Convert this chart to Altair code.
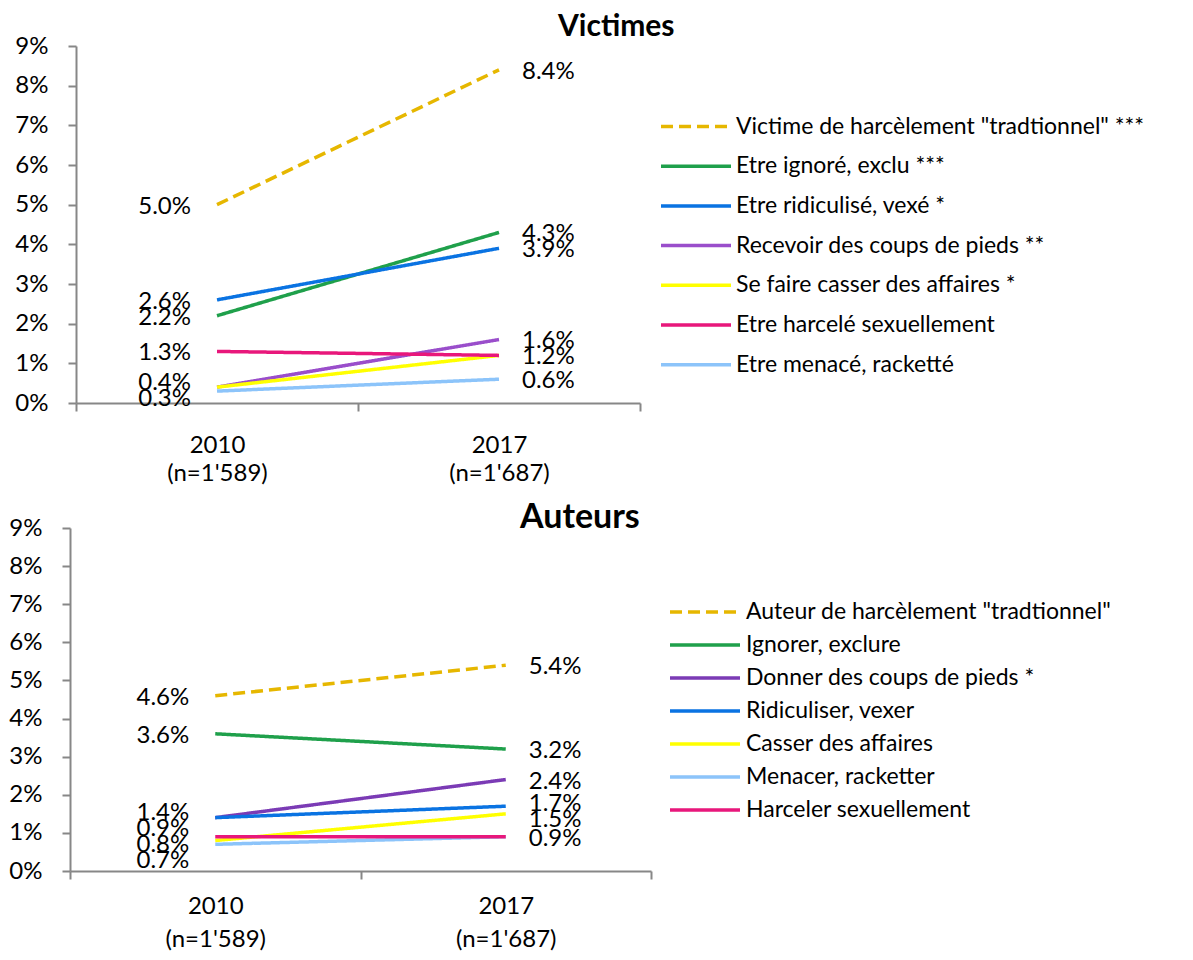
import altair as alt
import pandas as pd

years = ["2010|(n=1'589)", "2017|(n=1'687)"]

vic_series = [
    'Victime de harcèlement "tradtionnel" ***',
    "Etre ignoré, exclu ***",
    "Etre ridiculisé, vexé *",
    "Recevoir des coups de pieds **",
    "Se faire casser des affaires *",
    "Etre harcelé sexuellement",
    "Etre menacé, racketté",
]
vic_2010 = [5.0, 2.2, 2.6, 0.4, 0.4, 1.3, 0.3]
vic_2017 = [8.4, 4.3, 3.9, 1.6, 1.2, 1.2, 0.6]
vic_colors = ["#E6B700", "#1FA04B", "#0A73E2", "#9A4ECB", "#FFFF00", "#E8177B", "#8CC4FA"]

aut_series = [
    'Auteur de harcèlement "tradtionnel"',
    "Ignorer, exclure",
    "Donner des coups de pieds *",
    "Ridiculiser, vexer",
    "Casser des affaires",
    "Menacer, racketter",
    "Harceler sexuellement",
]
aut_2010 = [4.6, 3.6, 1.4, 1.4, 0.8, 0.7, 0.9]
aut_2017 = [5.4, 3.2, 2.4, 1.7, 1.5, 0.9, 0.9]
aut_colors = ["#E6B700", "#1FA04B", "#7B3BB5", "#0A73E2", "#FFFF00", "#8CC4FA", "#E8177B"]

DASHED = [12, 6]
SOLID = [1, 0]
FONT = "Lato"
AXIS_COLOR = "#878787"
FS = 24
YMAX = 9.0
LABEL_GAP_PX = 16


def spread(values, gap):
    """Dodge label positions: overlapping labels are spread evenly around their mean."""
    vals = sorted(set(values), reverse=True)
    clusters = [[v] for v in vals]

    def positions(c):
        m = sum(c) / len(c)
        return [m + gap * ((len(c) - 1) / 2 - i) for i in range(len(c))]

    changed = True
    while changed:
        changed = False
        for i in range(len(clusters) - 1):
            low_of_upper = positions(clusters[i])[-1]
            top_of_lower = positions(clusters[i + 1])[0]
            if low_of_upper - top_of_lower < gap - 1e-9:
                clusters[i] = clusters[i] + clusters.pop(i + 1)
                changed = True
                break
    out = {}
    for c in clusters:
        for v, p in zip(c, positions(c)):
            out[v] = p
    return out


def panel(series, v10, v17, colors, title, title_size, plot_w, height, inset, title_dx,
          title_offset, legend_x, legend_y, row_pad, label_off, xlab_pad, xlab_lh):
    rows = []
    for s, a, b in zip(series, v10, v17):
        rows.append({"serie": s, "annee": years[0], "val": a / 100})
        rows.append({"serie": s, "annee": years[1], "val": b / 100})
    df = pd.DataFrame(rows)

    gap = LABEL_GAP_PX * YMAX / height
    lab_rows = []
    for yr, vals in ((years[0], v10), (years[1], v17)):
        pos = spread(vals, gap)
        for v in sorted(set(vals), reverse=True):
            lab_rows.append({"annee": yr, "val": v / 100, "pos": pos[v] / 100})
    labels = pd.DataFrame(lab_rows)

    dashes = [DASHED] + [SOLID] * (len(series) - 1)

    if inset:
        xscale = alt.Scale(type="band", domain=years, paddingInner=0, paddingOuter=0,
                           range=[inset, inset + plot_w])
    else:
        xscale = alt.Scale(type="band", domain=years, paddingInner=0, paddingOuter=0)
    x = alt.X(
        "annee:N",
        scale=xscale,
        axis=alt.Axis(
            title=None, labelExpr="split(datum.label, '|')", tickBand="extent",
            labelAngle=0, labelPadding=xlab_pad, labelLineHeight=xlab_lh,
            labelFontSize=FS, labelFont=FONT, labelColor="black",
            tickSize=8, tickWidth=2, tickColor=AXIS_COLOR,
            domainColor=AXIS_COLOR, domainWidth=2,
        ),
    )
    yaxis_kw = dict(
        title=None, format=".0%", values=[i / 100 for i in range(10)], grid=False,
        tickSize=8, tickWidth=2, tickColor=AXIS_COLOR, domainColor=AXIS_COLOR,
        domainWidth=2, labelPadding=20, labelFontSize=FS, labelFont=FONT,
        labelColor="black",
    )
    if inset:
        yaxis_kw.update(offset=-inset)
    yscale = alt.Scale(domain=[0, YMAX / 100], nice=False, zero=True)
    y = alt.Y("val:Q", scale=yscale, axis=alt.Axis(**yaxis_kw))
    ypos = alt.Y("pos:Q", scale=yscale, axis=alt.Axis(**yaxis_kw))
    leg = alt.Legend(
        title=None, orient="none", legendX=legend_x, legendY=legend_y,
        symbolType="stroke", symbolSize=4900, symbolStrokeWidth=3.5,
        labelFont=FONT, labelFontSize=23, labelLimit=0, labelColor="black",
        rowPadding=row_pad, labelOffset=label_off, clipHeight=22,
    )
    color = alt.Color("serie:N", scale=alt.Scale(domain=series, range=colors), legend=leg)
    dash = alt.StrokeDash("serie:N", scale=alt.Scale(domain=series, range=dashes), legend=leg)

    lines = alt.Chart(df).mark_line(strokeWidth=3.5).encode(x=x, y=y, color=color, strokeDash=dash)
    left = (
        alt.Chart(labels)
        .transform_filter(alt.FieldEqualPredicate(field="annee", equal=years[0]))
        .mark_text(align="right", baseline="middle", dx=-26, dy=2, fontSize=FS, font=FONT, color="black")
        .encode(x=x, y=ypos, text=alt.Text("val:Q", format=".1%"))
    )
    right = (
        alt.Chart(labels)
        .transform_filter(alt.FieldEqualPredicate(field="annee", equal=years[1]))
        .mark_text(align="left", baseline="middle", dx=23, dy=2, fontSize=FS, font=FONT, color="black")
        .encode(x=x, y=ypos, text=alt.Text("val:Q", format=".1%"))
    )
    return alt.layer(lines, left, right).properties(
        width=plot_w + inset, height=height,
        title=alt.Title(title, anchor="start", frame="group", dx=title_dx, offset=title_offset,
                        fontSize=title_size, font=FONT, fontWeight="bold", color="black"),
    )


top = panel(vic_series, vic_2010, vic_2017, vic_colors, "Victimes", 30, 564, 357, 6, 488, -8,
            589, 69.5, 16.7, 3, 22, 28)
bottom = panel(aut_series, aut_2010, aut_2017, aut_colors, "Auteurs", 34, 581, 343, 0, 450, -19,
               598, 73, 10, 4, 15, 33)

chart = (
    alt.concat(top, bottom, columns=1, spacing=16)
    .resolve_scale(color="independent", strokeDash="independent")
    .resolve_legend(color="independent", strokeDash="independent")
    .properties(padding={"left": 0, "top": 4, "right": 0, "bottom": 0})
    .configure(font=FONT)
    .configure_view(strokeWidth=0, stroke="transparent")
)

chart.save("out.html", embed_options={"renderer": "svg", "actions": False})
